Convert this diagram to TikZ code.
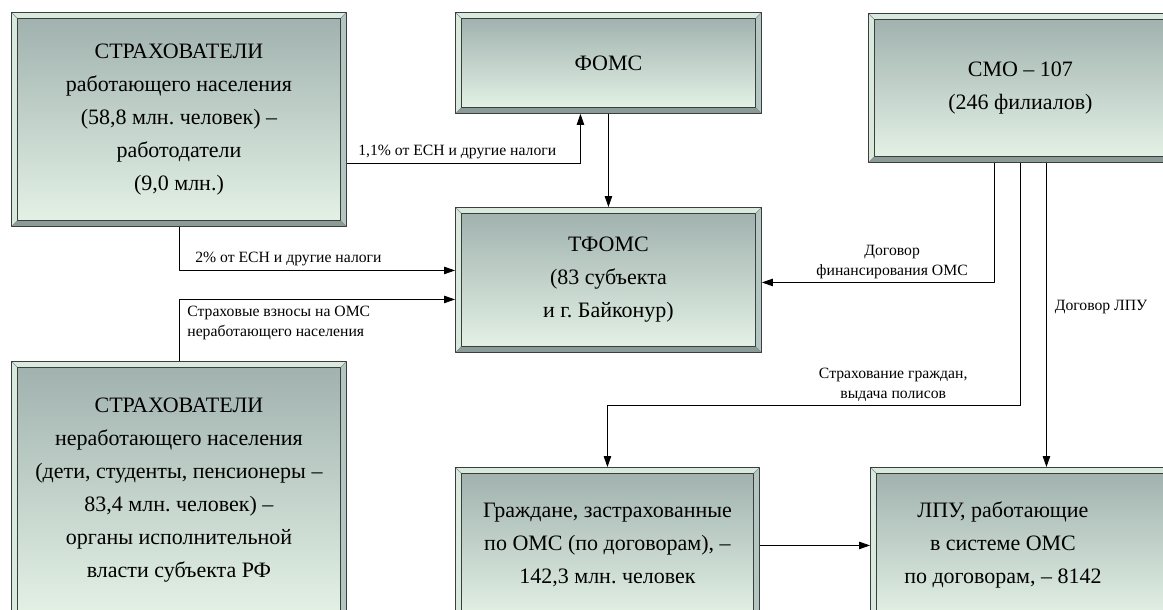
\documentclass[tikz,border=0pt]{standalone}
\usepackage{fontspec}
\setmainfont{Liberation Serif}
\usetikzlibrary{arrows.meta}
\frenchspacing

\definecolor{panelline}{HTML}{3A3F3E}
\definecolor{bevlight}{HTML}{D9E9DD}
\definecolor{bevmid}{HTML}{B4C6C1}
\definecolor{bevdark}{HTML}{8A9B98}
\definecolor{shadetop}{HTML}{A1B2AF}
\definecolor{shadebot}{HTML}{E3F1E5}

\newcommand\panelfont{\fontsize{22}{33}\selectfont}
\newcommand\flowfont{\fontsize{15.7}{20.5}\selectfont}

\tikzset{
  panel/.style={draw = panelline, line width = 0.9pt, fill = bevlight,
    anchor = north west, inner sep = 0pt, font = \panelfont, align = center,
    path picture = {
      \coordinate (pa) at (path picture bounding box.north west);
      \coordinate (pb) at (path picture bounding box.south east);
      \fill[bevmid] (pa -| pb) -- (pb) -- ([shift = {(-6pt, 6pt)}]pb)
        -- ([shift = {(-6pt, -6pt)}]pa -| pb) -- cycle;
      \fill[bevdark] (pb) -- (pb -| pa) -- ([shift = {(6pt, 6pt)}]pb -| pa)
        -- ([shift = {(-6pt, 6pt)}]pb) -- cycle;
      \draw[panelline!60, line width = 0.5pt] (pa) -- ++(6pt, -6pt)
        (pa -| pb) -- ++(-6pt, -6pt) (pb) -- ++(-6pt, 6pt)
        (pb -| pa) -- ++(6pt, 6pt);
      \shade[top color = shadetop, bottom color = shadebot, draw = panelline,
        line width = 0.9pt] ([shift = {(6pt, -6pt)}]pa)
        rectangle ([shift = {(-6pt, 6pt)}]pb);
    }},
  paneltext/.style={font = \panelfont, align = center, inner sep = 0pt},
  flow/.style={line width = 0.8pt, -{Triangle[length = 11pt, width = 7.5pt]}},
  note/.style={font = \flowfont, inner sep = 2pt}
}

\begin{document}
\begin{tikzpicture}[x = 1pt, y = -1pt, line join = round]
  \path[use as bounding box, clip] (0, 0) rectangle (1163, 610);

  \node[panel, minimum width = 335pt, minimum height = 214pt] (insW) at (11, 12)
    {СТРАХОВАТЕЛИ\\работающего населения\\(58,8 млн. человек) –\\работодатели\\(9,0 млн.)};
  \node[panel, minimum width = 306pt, minimum height = 101pt] (foms) at (455, 12) {ФОМС};
  \node[panel, minimum width = 306pt, minimum height = 145pt] (tfoms) at (455, 207)
    {ТФОМС\\(83 субъекта\\и г. Байконур)};
  \node[panel, minimum width = 304pt, minimum height = 149pt] (smo) at (868, 13)
    {СМО – 107\\(246 филиалов)};
  \node[panel, minimum width = 335pt, minimum height = 258pt] (insN) at (11, 361)
    {СТРАХОВАТЕЛИ\\неработающего населения\\(дети, студенты, пенсионеры –\\83,4 млн. человек) –\\органы исполнительной\\власти субъекта РФ};
  \node[panel, minimum width = 304pt, minimum height = 156pt] (grazh) at (455, 467)
    {Граждане, застрахованные\\по ОМС (по договорам), –\\142,3 млн. человек};
  \node[panel, minimum width = 305pt, minimum height = 156pt,
    label = {[paneltext, xshift = -20pt]center:{ЛПУ, работающие\\в системе ОМС\\по договорам, – 8142}}]
    (lpu) at (870, 467) {};

  \coordinate (polBend) at (0, 405);

  \draw[flow] ([yshift = -44pt]insW.east) -| node[note, pos = 0, anchor = south west,
    xshift = 9pt, yshift = 2pt] {1,1\% от ЕСН и другие налоги} ([xshift = -28pt]foms.south);
  \draw[flow] (foms.south) -- (tfoms.north);
  \draw[flow] (insW.south) |- node[note, pos = 0.5, anchor = south west,
    xshift = 14pt, yshift = 2pt] {2\% от ЕСН и другие налоги} ([yshift = 9.5pt]tfoms.west);
  \draw[flow] (insN.north) |- node[note, pos = 0.5, anchor = north west, align = left,
    xshift = 6pt, yshift = -4pt] {Страховые взносы на ОМС\\неработающего населения}
    ([yshift = -19.5pt]tfoms.west);

  \draw[flow] ([xshift = -26pt]smo.south) |- node[note, pos = 0.72, above, align = center,
    yshift = 1pt] {Договор\\финансирования ОМС} ([yshift = -2.5pt]tfoms.east);
  \draw[flow] (smo.south) -- (smo.south |- polBend) -| node[note, pos = 0.154, above,
    align = center, yshift = 1pt] {Страхование граждан,\\выдача полисов} (grazh.north);
  \draw[flow] ([xshift = 26pt]smo.south) -- node[note, pos = 0.475, right, xshift = 6pt]
    {Договор ЛПУ} ([xshift = 26pt]smo.south |- lpu.north);

  \draw[flow] (grazh.east) -- (lpu.west);
\end{tikzpicture}
\end{document}
